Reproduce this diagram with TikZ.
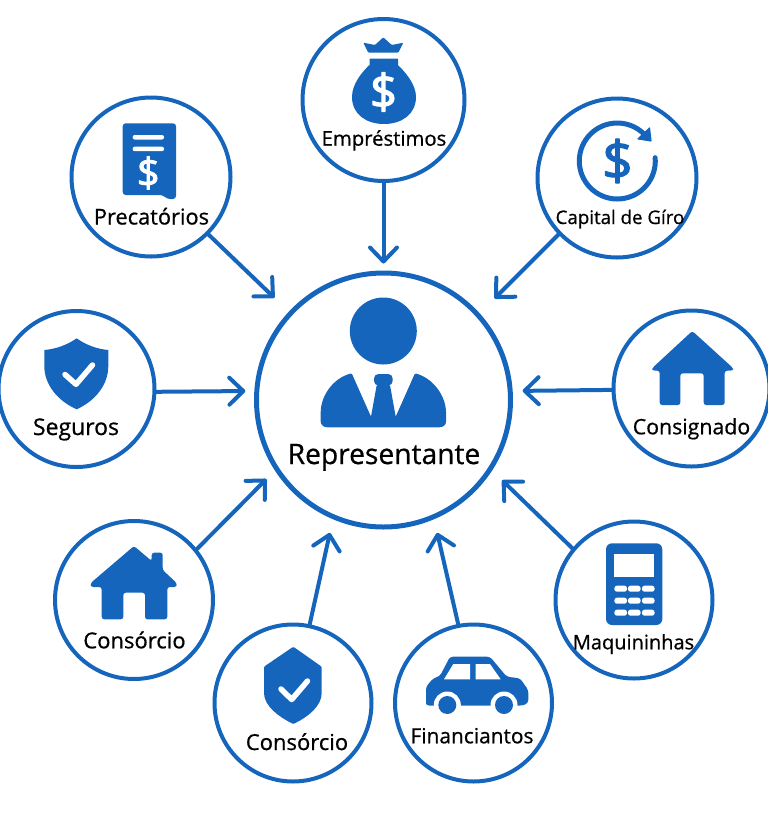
\documentclass[tikz,border=0pt]{standalone}
\usepackage{fontspec}
\setmainfont{Open Sans}
\newfontfamily\lblfont[FakeBold=0.7]{Open Sans}
\newfontfamily\signfont[FakeBold=2.2]{Open Sans}
\usetikzlibrary{arrows.meta}
\definecolor{mainblue}{HTML}{1565BC}
\tikzset{
    hubnode/.style={circle, draw=mainblue, line width=5pt, inner sep=0pt, minimum size=254pt},
    satnode/.style={circle, draw=mainblue, line width=4pt, inner sep=0pt},
    lbl/.style={text=black, inner sep=0pt, anchor=base},
    link/.style={->, draw=mainblue, line width=4pt, line cap=round},
    solid blue/.style={fill=mainblue, draw=none},
    solid white/.style={fill=white, draw=none},
    tickmark/.style={draw=white, line width=5.5pt, line cap=round, line join=round},
    dollar/.style={inner sep=0pt, font=\fontsize{#1}{#1}\selectfont\signfont}
}
\begin{document}
\begin{tikzpicture}[x=1pt, y=-1pt, >={Straight Barb[length=14pt, width=27pt, round]}, line join=round]
    \useasboundingbox (0,0) rectangle (768,823);
    \node[hubnode] (Rep) at (383.5,400) {};
    \node[lbl, font=\fontsize{28.2}{28.2}\selectfont\lblfont] (RepText) at (384,464) {Representante};
    \foreach \id/\x/\y/\d/\text/\lx/\ly/\fs in {
        Emp/383.5/100/162/Empréstimos/384/145.7/20.3,
        Prec/151/177/159/Precatórios/151.5/224.5/21.8,
        Cap/617/178/159/Capital de Gíro/620/224/18.7,
        Seg/76.5/389/156/Seguros/76/435/23,
        Cons/691.5/388.5/156/Consignado/691.5/434.3/21.3,
        Hou/134/600/158/Consórcio/134.5/648.3/22,
        Shi/293/703/157/Consórcio/297/750/22,
        Fin/473.5/703/157/Financiantos/472/743.3/20.9,
        Maq/634/600/157/Maquininhas/633.5/649.3/20%
    } {
        \node[satnode, minimum size=\d pt] (\id) at (\x,\y) {};
        \node[lbl, font=\fontsize{\fs}{\fs}\selectfont\lblfont] (\id Text) at (\lx,\ly) {\text};
    }
    \foreach \id/\from/\to/\gap in {
        Emp/270/90/7,
        Prec/315.5/137.9/20,
        Cap/224/42.6/21,
        Seg/358/176/9,
        Cons/181.5/4/10,
        Hou/39.5/213.3/12,
        Shi/78.7/247.6/14,
        Fin/101/293.2/14,
        Maq/140.5/327.8/14%
    } {
        \draw[link, shorten >=\gap pt] (\id.\from) -- (Rep.\to);
    }
    % person
    \fill[solid blue] (383.3,331) circle (33.5);
    \fill[solid blue, rounded corners=1pt] (351.7,373.3) .. controls (333,378) and (320.7,396) .. (320.7,413.3)
        -- (320.7,420.7) .. controls (320.7,425) and (324,427.3) .. (328.3,427.3) -- (438.3,427.3)
        .. controls (443,427.3) and (446,425) .. (446,420.7) -- (446,413.3)
        .. controls (446,396) and (433,378) .. (415,373.3) -- (395.7,416.7) -- (390,385) -- (376.7,385) -- (371,416.7) -- cycle;
    \fill[solid blue, rounded corners=4.5pt] (374,374) rectangle (392.7,385.5);
    % money bag
    \fill[solid blue, rounded corners=1pt] (363.3,42.7) -- (375,45) -- (383.3,37.3) -- (391.7,45) -- (403.3,42.7) -- (398.3,52.7) -- (368.3,52.7) -- cycle;
    \fill[solid blue] (369.5,58.5) -- (398,58.5) -- (398,65) .. controls (405,72) and (416,84) .. (416,97)
        .. controls (416,114) and (402,124) .. (384,124) .. controls (366,124) and (352,114) .. (352,97)
        .. controls (352,84) and (362,72) .. (369.5,65) -- cycle;
    \node[dollar=48, text=white] (EmpSign) at (383.5,92) {\$};
    % document
    \fill[solid blue, rounded corners=3pt] (122.7,123.3) -- (176,123.3) -- (176,199) -- (167,199) -- (163,195) -- (122.7,195) -- cycle;
    \fill[solid white, rounded corners=2pt] (132.7,135) rectangle (164,139.5);
    \fill[solid white, rounded corners=2pt] (132.7,146.7) rectangle (164,151.2);
    \node[dollar=40, text=white] (PrecSign) at (148.3,173) {\$};
    % circular arrow
    \draw[mainblue, line width=5pt, line cap=round] (617.3,161) ++(-5:38) arc[start angle=-5, end angle=315, radius=38];
    \fill[solid blue, rounded corners=1pt] (636.7,139.3) -- (651.7,141.7) -- (650,126.7) -- cycle;
    \node[dollar=54, text=mainblue] (CapSign) at (617.5,161) {\$};
    % shield, first
    \fill[solid blue] (76.7,338.3) .. controls (86,345) and (97,349) .. (108.3,350) -- (108.3,366)
        .. controls (108.3,385) and (95,401) .. (76.7,409.3) .. controls (58,401) and (44.3,385) .. (44.3,366) -- (44.3,350)
        .. controls (56,349) and (67,345) .. (76.7,338.3) -- cycle;
    \draw[tickmark] (65,374.5) -- (76,384.3) -- (92.5,365);
    % house, right
    \fill[solid blue, rounded corners=2.5pt] (692.3,331) -- (733,368) -- (733,370.7) -- (724.7,370.7) -- (724.7,405) -- (703.7,405) -- (703.7,373.3) -- (680.3,373.3) -- (680.3,405) -- (659.7,405) -- (659.7,370.7) -- (652.3,370.7) -- (652.3,368) -- cycle;
    % house with chimney
    \fill[solid blue, rounded corners=2.5pt] (134,546) -- (151.7,561) -- (151.7,552.7) -- (162.7,552.7) -- (162.7,570) -- (176.7,583) -- (176.7,587) -- (167.3,587) -- (167.3,619.3) -- (145,619.3) -- (145,592.7) -- (123.3,592.7) -- (123.3,619.3) -- (101.7,619.3) -- (101.7,587) -- (90.7,587) -- (90.7,583) -- cycle;
    % shield, second
    \fill[solid blue, rounded corners=1pt] (293.3,646.7) -- (321.7,666.7) -- (321.7,692) .. controls (321.7,706) and (308,717) .. (293.3,724)
        .. controls (279,717) and (264,706) .. (264,692) -- (264,666.7) -- cycle;
    \draw[tickmark] (281,689) -- (291.7,699.5) -- (307.5,681);
    % car
    \fill[solid blue, rounded corners=3pt] (426,703.3) -- (426,686.7) -- (433.3,678.3) -- (440,676) -- (450,656.7) -- (490,656.7) -- (506.7,676.7) -- (520,678.3) -- (528.3,690) -- (528.3,703) -- (523,705.5) -- (426,705.5) -- cycle;
    \fill[solid white] (444,679.3) -- (453.3,664) -- (470,664) -- (470,679.3) -- cycle;
    \fill[solid white] (475.7,664) -- (490,664) -- (500.7,679.3) -- (475.7,679.3) -- cycle;
    \foreach \wx in {447.3,504} {
        \fill[solid white] (\wx,705) circle (13.5);
        \fill[solid blue] (\wx,705) circle (9);
    }
    % card machine
    \fill[solid blue, rounded corners=6pt] (606,543.3) rectangle (662.3,625);
    \fill[solid white] (614.3,554) rectangle (654,577.3);
    \foreach \bx in {620.7,634.3,648.3} {
        \foreach \by in {588.7,600.7,612.7} {
            \fill[solid white, rounded corners=2.5pt] (\bx-6.3,\by-3) rectangle (\bx+6.3,\by+3);
        }
    }
\end{tikzpicture}
\end{document}
